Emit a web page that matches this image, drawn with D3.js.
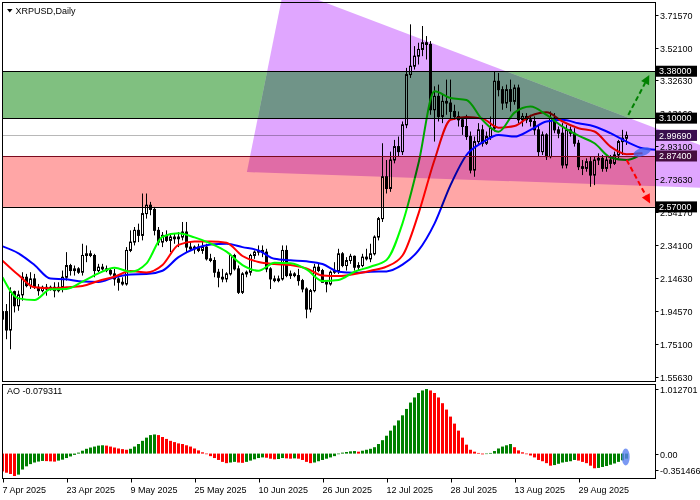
<!DOCTYPE html>
<html><head><meta charset="utf-8">
<script src="https://cdn.jsdelivr.net/npm/d3@7"></script>
<style>
body{margin:0;background:#fff;}
svg{display:block;}
text{font-family:"Liberation Sans",Arial,sans-serif;font-size:9px;}
</style>
</head><body>
<svg id="c" width="700" height="500"></svg>
<script>
// ---------- DATA ----------
const symbolTitle = "XRPUSD,Daily";
const aoTitle = "AO -0.079311";
const opens = [1.90,1.945,1.835,2.064,1.98,2.045,2.15,2.10,2.14,2.09,2.07,2.09,2.08,2.09,2.07,2.09,2.15,2.22,2.19,2.20,
2.18,2.28,2.29,2.28,2.19,2.21,2.20,2.19,2.17,2.14,2.12,2.11,2.31,2.36,2.43,2.40,2.53,2.58,2.555,2.43,
2.36,2.40,2.37,2.39,2.38,2.39,2.42,2.33,2.32,2.33,2.31,2.33,2.26,2.25,2.18,2.15,2.14,2.17,2.28,2.20,
2.06,2.17,2.18,2.28,2.30,2.31,2.30,2.20,2.14,2.13,2.14,2.31,2.16,2.17,2.16,2.13,2.08,1.96,2.07,2.21,
2.19,2.12,2.11,2.18,2.19,2.29,2.22,2.25,2.275,2.21,2.22,2.27,2.26,2.29,2.39,2.50,2.75,2.68,2.85,2.93,
2.90,3.06,3.36,3.41,3.47,3.51,3.55,3.54,3.15,3.23,3.11,3.20,3.19,3.14,3.11,3.09,3.05,2.99,2.79,2.96,
3.03,2.95,2.99,3.04,3.32,3.27,3.19,3.27,3.20,3.28,3.09,3.11,3.09,3.08,3.03,2.90,3.00,2.87,3.10,3.03,
3.01,2.82,3.03,3.01,2.95,2.81,2.80,2.84,2.76,2.85,2.86,2.80,2.85,2.83,2.88,2.96,2.98];
const highs = [2.01,1.99,2.09,2.07,2.07,2.18,2.17,2.18,2.17,2.11,2.10,2.11,2.10,2.12,2.12,2.19,2.30,2.23,2.22,2.21,
2.35,2.34,2.31,2.29,2.23,2.23,2.22,2.20,2.20,2.15,2.15,2.33,2.43,2.45,2.47,2.65,2.65,2.60,2.57,2.45,
2.42,2.43,2.41,2.41,2.42,2.48,2.48,2.36,2.34,2.35,2.36,2.35,2.29,2.27,2.20,2.20,2.18,2.29,2.29,2.22,
2.18,2.19,2.29,2.31,2.34,2.34,2.32,2.21,2.16,2.16,2.34,2.34,2.19,2.18,2.20,2.14,2.09,2.08,2.23,2.23,
2.20,2.13,2.19,2.24,2.32,2.30,2.27,2.29,2.28,2.24,2.29,2.32,2.35,2.40,2.51,2.95,2.85,2.90,2.97,2.99,
3.08,3.40,3.66,3.53,3.55,3.65,3.59,3.56,3.29,3.30,3.24,3.33,3.33,3.18,3.14,3.10,3.12,3.02,2.99,3.07,
3.06,3.02,3.11,3.38,3.37,3.29,3.30,3.33,3.30,3.30,3.13,3.13,3.12,3.11,3.06,3.02,3.01,3.14,3.13,3.05,
3.07,3.06,3.05,3.04,2.97,2.85,2.86,2.87,2.87,2.89,2.88,2.87,2.88,2.90,2.97,3.03,3.02];
const lows = [1.61,1.78,1.72,1.94,1.95,2.01,2.09,2.08,2.08,2.04,2.06,2.04,2.07,2.03,2.06,2.06,2.13,2.16,2.16,2.17,
2.16,2.24,2.27,2.15,2.18,2.19,2.18,2.16,2.10,2.07,2.10,2.10,2.30,2.34,2.36,2.37,2.50,2.52,2.40,2.34,
2.33,2.36,2.30,2.35,2.33,2.37,2.30,2.31,2.29,2.30,2.29,2.25,2.24,2.15,2.09,2.12,2.12,2.16,2.19,2.05,
2.05,2.15,2.16,2.26,2.28,2.27,2.18,2.08,2.12,2.12,2.13,2.15,2.14,2.15,2.10,2.06,1.905,1.94,2.06,2.18,
2.12,2.06,2.10,2.17,2.17,2.21,2.19,2.23,2.19,2.19,2.21,2.25,2.24,2.28,2.37,2.48,2.65,2.66,2.83,2.87,
2.88,3.04,3.34,3.39,3.42,3.47,3.45,3.12,2.96,3.08,3.07,3.12,3.10,3.09,3.05,3.00,2.97,2.77,2.75,2.94,
2.93,2.94,2.97,3.02,3.23,3.15,3.16,3.14,3.18,3.07,3.05,3.07,3.05,3.00,2.87,2.88,2.85,2.86,3.01,2.98,
2.80,2.80,2.99,2.93,2.79,2.76,2.78,2.69,2.70,2.82,2.78,2.78,2.80,2.82,2.86,2.88,2.94];
const closes = [1.945,1.835,2.064,1.98,2.045,2.15,2.10,2.14,2.09,2.07,2.09,2.08,2.09,2.07,2.09,2.15,2.22,2.19,2.20,2.18,
2.28,2.29,2.28,2.19,2.21,2.20,2.19,2.17,2.14,2.12,2.11,2.31,2.36,2.43,2.40,2.53,2.58,2.555,2.43,2.36,
2.40,2.37,2.39,2.38,2.39,2.42,2.33,2.32,2.33,2.31,2.33,2.26,2.25,2.18,2.15,2.14,2.17,2.28,2.20,2.06,
2.17,2.18,2.28,2.30,2.31,2.30,2.20,2.14,2.13,2.14,2.31,2.16,2.17,2.16,2.13,2.08,1.96,2.07,2.21,2.19,
2.12,2.11,2.18,2.19,2.29,2.22,2.25,2.275,2.21,2.22,2.27,2.26,2.29,2.39,2.50,2.75,2.68,2.85,2.93,2.90,
3.06,3.36,3.41,3.47,3.51,3.55,3.54,3.15,3.23,3.11,3.20,3.19,3.14,3.11,3.09,3.05,2.99,2.79,2.96,3.03,
2.95,2.99,3.04,3.32,3.27,3.19,3.27,3.20,3.28,3.09,3.11,3.09,3.08,3.03,2.90,3.00,2.87,3.10,3.03,3.01,
2.82,3.03,3.01,2.95,2.81,2.80,2.84,2.76,2.85,2.86,2.80,2.85,2.83,2.88,2.96,2.98,2.9969];

const aoValues = [-0.28,-0.30,-0.32,-0.3515,-0.33,-0.25,-0.20,-0.165,-0.14,-0.125,-0.115,-0.118,-0.122,-0.126,-0.11,-0.095,-0.07,-0.045,-0.02,0.015,
0.045,0.075,0.095,0.11,0.125,0.13,0.125,0.11,0.095,0.08,0.07,0.06,0.075,0.11,0.15,0.20,0.25,0.29,0.30,0.29,
0.26,0.23,0.20,0.18,0.16,0.15,0.13,0.11,0.08,0.05,0.02,-0.01,-0.04,-0.07,-0.10,-0.13,-0.15,-0.14,-0.13,-0.14,
-0.145,-0.13,-0.11,-0.09,-0.07,-0.06,-0.065,-0.08,-0.09,-0.085,-0.07,-0.075,-0.08,-0.075,-0.08,-0.10,-0.13,-0.15,-0.14,-0.12,
-0.10,-0.08,-0.06,-0.04,-0.01,0.015,0.025,0.035,0.04,0.03,0.045,0.06,0.075,0.10,0.15,0.21,0.28,0.36,0.44,0.52,
0.60,0.70,0.80,0.88,0.95,0.99,1.012701,0.99,0.95,0.88,0.79,0.69,0.58,0.47,0.36,0.25,0.14,0.06,0.03,0.01,
-0.012,-0.005,0.01,0.04,0.08,0.11,0.13,0.15,0.10,0.05,0.02,-0.01,-0.03,-0.06,-0.10,-0.12,-0.15,-0.19,-0.18,-0.16,
-0.14,-0.13,-0.12,-0.10,-0.11,-0.13,-0.15,-0.19,-0.23,-0.225,-0.21,-0.195,-0.175,-0.155,-0.13,-0.105,-0.079311];

// Alligator lines, read every 4 bars
const jawBars = d3.range(0, 165, 4);
const jawValues = [2.335,2.293,2.223,2.142,2.138,2.124,2.122,2.150,2.167,2.169,2.189,2.27,2.32,2.345,2.35,2.33,2.31,2.26,2.251,2.245,
2.229,2.183,2.177,2.183,2.185,2.225,2.31,2.47,2.70,2.88,2.955,3.00,2.99,3.03,3.08,3.09,3.069,3.05,3.01,2.96,2.92,2.91];
const teethBars = d3.range(0, 161, 4);
const teethValues = [2.249,2.163,2.090,2.084,2.090,2.098,2.128,2.153,2.187,2.179,2.223,2.343,2.364,2.364,2.356,2.277,2.241,2.229,2.223,2.203,
2.160,2.157,2.169,2.189,2.213,2.28,2.53,2.85,3.09,3.107,3.097,3.043,3.053,3.113,3.135,3.08,3.04,3.02,2.93,2.885,2.89];
const lipsBars = d3.range(0, 157, 4).concat([159]);
const lipsValues = [2.150,2.024,2.014,2.078,2.080,2.124,2.173,2.207,2.183,2.233,2.392,2.412,2.388,2.352,2.303,2.223,2.189,2.237,2.233,2.197,
2.128,2.134,2.183,2.213,2.253,2.472,2.83,3.26,3.22,3.208,3.089,3.019,3.133,3.169,3.119,3.049,2.995,2.95,2.865,2.85,2.875];

const priceTickValues = [3.7157,3.5210,3.3263,3.1316,2.9310,2.7363,2.5417,2.3410,2.1463,1.9457,1.7510,1.5563];
const aoTickValues = [1.012701, 0, -0.351466];
const aoTickLabels = ["1.012701","0.00","-0.351466"];
const dateTickBars = [0,16,32,48,64,80,96,112,128,144];
const dateTickLabels = ["7 Apr 2025","23 Apr 2025","9 May 2025","25 May 2025","10 Jun 2025","26 Jun 2025","12 Jul 2025","28 Jul 2025","13 Aug 2025","29 Aug 2025"];

const bidPrice = 2.9969;
const levelPrices = [3.38, 3.10, 2.874, 2.57];
const levelColors = ["#000000","#000000","#7a0a1e","#000000"];
const tagPrices = [3.38, 3.10, 2.9969, 2.874, 2.57];
const tagColors = ["#000000","#000000","#3a0f4e","#450c40","#000000"];
const greenZone = [3.10, 3.38];
const redZone = [2.57, 2.874];
const triangleBars = [70.4, 61.1, 205.4];
const trianglePrices = [3.883, 2.778, 2.659];
const upArrowBars = [156.45, 161.7];
const upArrowPrices = [3.119, 3.357];
const downArrowBars = [156.05, 161.9];
const downArrowPrices = [2.850, 2.591];
const markBar = 159.9, markPrice = 2.898;
const aoMarkBar = 155.8, aoMarkValue = -0.055;

// ---------- LAYOUT ----------
const L = 2.5, R = 655.5, T = 2.5, B = 381.5, AT = 384.5, AB = 478.5;
const svg = d3.select("#c");
const x = d3.scaleLinear().domain([0, 1]).range([2.5, 6.5]);
const y = d3.scaleLinear().domain([1.5563, 3.7157]).range([376.7, 15]);
const ya = d3.scaleLinear().domain([-0.351466, 1.012701]).range([476, 389]);

const triPoints = triangleBars.map((b,j) => [x(b), y(trianglePrices[j])].join(",")).join(" ");

const defs = svg.append("defs");
defs.append("clipPath").attr("id","mainClip").append("rect").attr("x",3).attr("y",3).attr("width",R-3).attr("height",B-3);
defs.append("clipPath").attr("id","aoClip").append("rect").attr("x",3).attr("y",AT+0.5).attr("width",R-3).attr("height",AB-AT-1);
defs.append("clipPath").attr("id","triClip").append("polygon").attr("points",triPoints);
const outMask = defs.append("mask").attr("id","outTri").attr("maskUnits","userSpaceOnUse")
  .attr("x",0).attr("y",0).attr("width",700).attr("height",500);
outMask.append("rect").attr("x",0).attr("y",0).attr("width",700).attr("height",500).attr("fill","#fff");
outMask.append("polygon").attr("points",triPoints).attr("fill","#000");

svg.append("rect").attr("width",700).attr("height",500).attr("fill","#fff");

// ---------- MAIN PANEL ----------
const gMain = svg.append("g").attr("clip-path","url(#mainClip)");
gMain.append("line").attr("x1",L).attr("x2",R).attr("y1",Math.round(y(bidPrice))+0.5).attr("y2",Math.round(y(bidPrice))+0.5)
  .attr("stroke","#b8b8b8").attr("stroke-width",1);

const bars = d3.range(opens.length).map(i => ({i, o:opens[i], h:highs[i], l:lows[i], c:closes[i]}));
gMain.selectAll("line.wick").data(bars).join("line").attr("class","wick")
  .attr("x1", d => x(d.i)).attr("x2", d => x(d.i))
  .attr("y1", d => y(d.h)).attr("y2", d => y(d.l))
  .attr("stroke","#000").attr("stroke-width",1);
gMain.selectAll("rect.body").data(bars).join("rect").attr("class","body")
  .attr("x", d => x(d.i) - 1).attr("width", 2)
  .attr("y", d => y(Math.max(d.o, d.c)))
  .attr("height", d => Math.max(0.6, Math.abs(y(d.o) - y(d.c))))
  .attr("fill", d => d.c >= d.o ? "#ffffff" : "#000000")
  .attr("stroke","#000").attr("stroke-width",1);

function drawLine(barsArr, vals, color){
  const pts = vals.map((v,j) => [barsArr[j], v]);
  gMain.append("path").datum(pts)
    .attr("d", d3.line().x(d => x(d[0])).y(d => y(d[1])).curve(d3.curveMonotoneX))
    .attr("fill","none").attr("stroke",color).attr("stroke-width",2).attr("stroke-linejoin","round");
}
drawLine(jawBars, jawValues, "#0000ff");
drawLine(teethBars, teethValues, "#ff0000");
drawLine(lipsBars, lipsValues, "#00ff00");

// zones (multiply like MT4 background objects)
const gy0 = y(greenZone[1]), gh = y(greenZone[0]) - y(greenZone[1]);
gMain.append("rect").attr("x",L).attr("width",R-L).attr("y",gy0).attr("height",gh)
  .attr("fill","#80c080").attr("mask","url(#outTri)").style("mix-blend-mode","multiply");
gMain.append("rect").attr("x",L).attr("width",R-L).attr("y",gy0).attr("height",gh)
  .attr("fill","#80e388").attr("clip-path","url(#triClip)").style("mix-blend-mode","multiply");
gMain.append("rect").attr("x",L).attr("width",R-L).attr("y",y(redZone[1])).attr("height",y(redZone[0])-y(redZone[1]))
  .attr("fill","#ffa6a6").style("mix-blend-mode","multiply");

// price axis labels
const gAxis = svg.append("g");
priceTickValues.forEach(v => {
  const yy = Math.round(y(v)) + 0.5;
  gAxis.append("line").attr("x1",R).attr("x2",R+3).attr("y1",yy).attr("y2",yy).attr("stroke","#000");
  gAxis.append("text").attr("x",660).attr("y",yy+3.2).attr("fill","#000").text(v.toFixed(5));
});

// triangle (extends over axis area)
svg.append("polygon").attr("points", triPoints)
  .attr("fill","#e0a6ff").style("mix-blend-mode","multiply");

// level lines
const gLev = svg.append("g").attr("clip-path","url(#mainClip)");
levelPrices.forEach((p,j) => {
  const yy = Math.round(y(p)) + 0.5;
  gLev.append("line").attr("x1",L).attr("x2",R).attr("y1",yy).attr("y2",yy).attr("stroke",levelColors[j]).attr("stroke-width",1);
});

// arrows
function arrow(bs, ps, color){
  const x0 = x(bs[0]), y0 = y(ps[0]), x1 = x(bs[1]), y1 = y(ps[1]);
  const ang = Math.atan2(y1-y0, x1-x0);
  const hl = 9, hw = 4.5;
  const bx = x1 - hl*Math.cos(ang), by = y1 - hl*Math.sin(ang);
  svg.append("line").attr("x1",x0).attr("y1",y0).attr("x2",bx).attr("y2",by)
    .attr("stroke",color).attr("stroke-width",2).attr("stroke-dasharray","5,3");
  const px = -Math.sin(ang), py = Math.cos(ang);
  svg.append("polygon").attr("points",[[x1,y1],[bx+px*hw,by+py*hw],[bx-px*hw,by-py*hw]].map(p=>p.join(",")).join(" "))
    .attr("fill",color);
}
arrow(upArrowBars, upArrowPrices, "#008000");
arrow(downArrowBars, downArrowPrices, "#ff0000");

// blue mark
svg.append("ellipse").attr("cx",x(markBar)).attr("cy",y(markPrice)).attr("rx",9).attr("ry",4)
  .attr("transform",`rotate(-18 ${x(markBar)} ${y(markPrice)})`)
  .attr("fill","#3f66ee").attr("fill-opacity",0.75);

// price tags
tagPrices.forEach((p,j) => {
  const yy = y(p);
  svg.append("rect").attr("x",656).attr("y",yy-5.5).attr("width",41).attr("height",11).attr("fill",tagColors[j]);
  svg.append("text").attr("x",659).attr("y",yy+3.2).attr("fill","#fff").text(p.toFixed(5));
});

// ---------- AO PANEL ----------
const gAO = svg.append("g").attr("clip-path","url(#aoClip)");
gAO.selectAll("rect.ao").data(aoValues).join("rect").attr("class","ao")
  .attr("x",(d,i) => x(i) - 1.5).attr("width",3)
  .attr("y", d => Math.min(ya(0), ya(d)))
  .attr("height", d => Math.max(0.5, Math.abs(ya(d) - ya(0))))
  .attr("fill", (d,i) => (i > 0 && d > aoValues[i-1]) ? "#008000" : "#ff0000");
svg.append("ellipse").attr("cx",x(aoMarkBar)).attr("cy",ya(aoMarkValue)).attr("rx",4).attr("ry",8.5)
  .attr("fill","#5a7ff0").attr("fill-opacity",0.8);

aoTickValues.forEach((v,j) => {
  const yy = Math.min(Math.round(ya(v)) + 0.5, AB - 8);
  gAxis.append("line").attr("x1",R).attr("x2",R+3).attr("y1",yy).attr("y2",yy).attr("stroke","#000");
  svg.append("text").attr("x",660).attr("y",Math.max(yy, AT+5)+3.2).attr("fill","#000").text(aoTickLabels[j]);
});

// frames
svg.append("rect").attr("x",L).attr("y",T).attr("width",R-L).attr("height",B-T).attr("fill","none").attr("stroke","#000");
svg.append("rect").attr("x",L).attr("y",AT).attr("width",R-L).attr("height",AB-AT).attr("fill","none").attr("stroke","#000");

// date axis
dateTickBars.forEach((b,j) => {
  const xx = Math.round(x(b)) + 0.5;
  svg.append("line").attr("x1",xx).attr("x2",xx).attr("y1",AB).attr("y2",AB+4).attr("stroke","#000");
  svg.append("text").attr("x",x(b)).attr("y",492.5).attr("fill","#000").text(dateTickLabels[j]);
});

// titles
svg.append("path").attr("d","M7,9 L12.5,9 L9.75,12.5 Z").attr("fill","#000");
svg.append("text").attr("x",15.5).attr("y",13.5).attr("fill","#000").text(symbolTitle);
svg.append("text").attr("x",7).attr("y",394).attr("fill","#000").text(aoTitle);
</script>
</body></html>
